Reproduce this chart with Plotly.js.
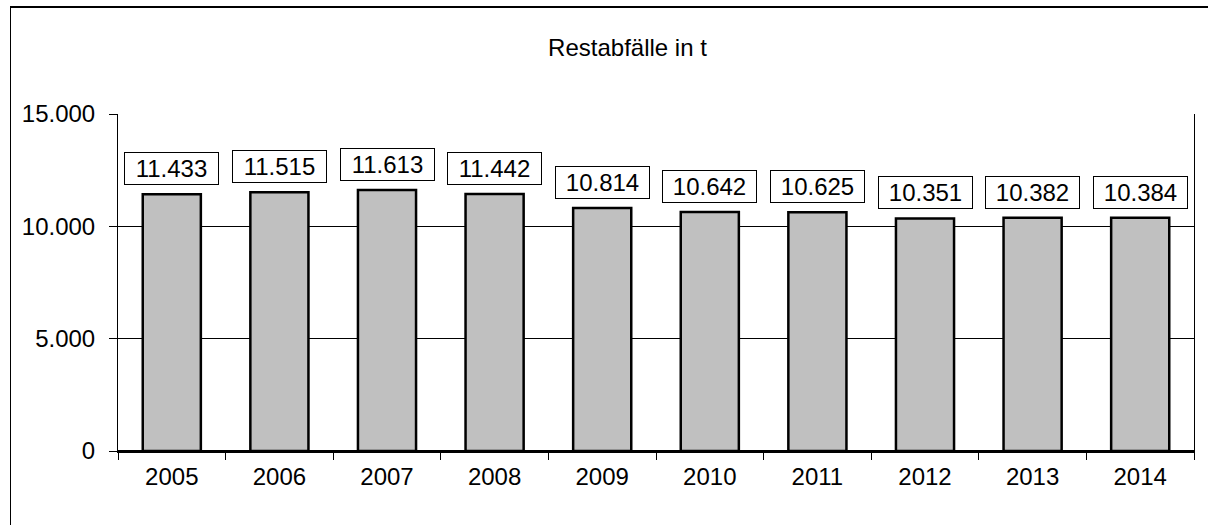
<!DOCTYPE html>
<html>
<head>
<meta charset="utf-8">
<script src="https://cdn.plot.ly/plotly-3.0.1.min.js"></script>
<style>
  html, body { margin: 0; padding: 0; background: #fff; }
  #wrap { position: relative; width: 1210px; height: 525px; }
  #chart { width: 1210px; height: 525px; }
  #frame { position: absolute; left: 10px; top: 6px; width: 1198px; height: 519px;
           border-top: 2px solid #000; border-left: 1px solid #000; box-sizing: border-box;
           pointer-events: none; }
</style>
</head>
<body>
<div id="wrap">
  <div id="chart"></div>
  <div id="frame"></div>
</div>
<script>
const years = ["2005", "2006", "2007", "2008", "2009", "2010", "2011", "2012", "2013", "2014"];
const restabfaelle = [11433, 11515, 11613, 11442, 10814, 10642, 10625, 10351, 10382, 10384];
const chartTitle = "Restabfälle in t";

const FONT = "Liberation Sans, Arial, Helvetica, sans-serif";

const trace = {
  type: "bar",
  x: years,
  y: restabfaelle,
  marker: { color: "#c0c0c0", line: { color: "#000000", width: 2.5 } },
  hoverinfo: "x+y"
};

// annotations on a category axis: position by category index
const labels = years.map((yr, i) => ({
  x: i,
  y: restabfaelle[i],
  xref: "x",
  yref: "y",
  text: restabfaelle[i].toLocaleString("de-DE"),
  showarrow: false,
  yanchor: "bottom",
  xanchor: "center",
  yshift: 9,
  width: 91,
  height: 29,
  borderpad: 1,
  bordercolor: "#000000",
  borderwidth: 1,
  bgcolor: "#ffffff",
  font: { family: FONT, size: 24, color: "#000000" }
}));

const layout = {
  width: 1210,
  height: 525,
  margin: { l: 118, r: 16, t: 114, b: 74 },
  paper_bgcolor: "#ffffff",
  plot_bgcolor: "#ffffff",
  separators: ",.",
  showlegend: false,
  bargap: 0.46,
  font: { family: FONT, color: "#000000" },
  title: {
    text: chartTitle,
    font: { family: FONT, size: 24, color: "#000000" },
    xref: "container", x: 0.5186, xanchor: "center",
    yref: "container", y: 0.9086, yanchor: "middle"
  },
  xaxis: {
    type: "category",
    categoryorder: "array",
    categoryarray: years,
    range: [-0.5, years.length - 0.5],
    autorange: false,
    tickson: "boundaries",
    ticks: "outside",
    ticklen: 7,
    tickcolor: "#000000",
    tickwidth: 1,
    tickangle: 0,
    showline: true,
    linecolor: "#000000",
    linewidth: 2,
    showgrid: false,
    tickfont: { family: FONT, size: 24, color: "#000000" },
    ticklabelstandoff: 3,
    fixedrange: true
  },
  yaxis: {
    range: [0, 15000],
    autorange: false,
    dtick: 5000,
    tick0: 0,
    tickformat: ",d",
    ticks: "outside",
    ticklen: 8,
    tickcolor: "#000000",
    tickwidth: 1,
    showline: true,
    mirror: true,
    linecolor: "#000000",
    linewidth: 1,
    showgrid: true,
    gridcolor: "#000000",
    gridwidth: 1,
    zeroline: true,
    zerolinecolor: "#000000",
    zerolinewidth: 2,
    tickfont: { family: FONT, size: 24, color: "#000000" },
    ticklabelstandoff: 9,
    fixedrange: true
  },
  annotations: labels
};

Plotly.newPlot("chart", [trace], layout, { displayModeBar: false, staticPlot: true });
</script>
</body>
</html>
